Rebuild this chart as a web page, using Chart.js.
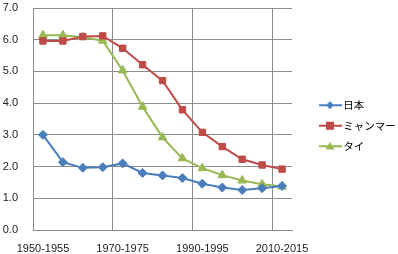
<!DOCTYPE html>
<html>
<head>
<meta charset="utf-8">
<script src="https://cdn.jsdelivr.net/npm/chart.js@4"></script>
<style>
  html, body { margin: 0; padding: 0; background: #fff; }
  #wrap { width: 398px; height: 254px; }
</style>
</head>
<body>
<div id="wrap"><canvas id="chart1" width="398" height="254"></canvas></div>
<script>
// 期間
const categories = ['1950-1955', '1955-1960', '1960-1965', '1965-1970', '1970-1975', '1975-1980',
  '1980-1985', '1985-1990', '1990-1995', '1995-2000', '2000-2005', '2005-2010', '2010-2015'];

// 系列の値
const japan = [3.00, 2.14, 1.96, 1.98, 2.10, 1.80, 1.72, 1.64, 1.46, 1.34, 1.26, 1.32, 1.39];
const myanmar = [5.96, 5.96, 6.10, 6.12, 5.73, 5.21, 4.71, 3.79, 3.08, 2.63, 2.23, 2.05, 1.92];
const thai = [6.14, 6.14, 6.08, 5.97, 5.03, 3.89, 2.92, 2.26, 1.95, 1.73, 1.56, 1.44, 1.37];

const seriesNames = ['日本', 'ミャンマー', 'タイ'];

const gridColor = '#8c8c8c';

// 凡例用のマーカー付き線 (左側は透明の余白)
function legendIcon(color, style, r) {
  const c = document.createElement('canvas');
  c.width = 44; c.height = 12;
  const g = c.getContext('2d');
  g.strokeStyle = color;
  g.lineWidth = 2;
  g.beginPath(); g.moveTo(21, 6); g.lineTo(44, 6); g.stroke();
  g.fillStyle = color;
  const cx = 32, cy = 6;
  g.beginPath();
  if (style === 'rectRot') {
    g.moveTo(cx, cy - r); g.lineTo(cx + r, cy); g.lineTo(cx, cy + r); g.lineTo(cx - r, cy);
  } else if (style === 'rect') {
    g.rect(cx - r, cy - r, 2 * r, 2 * r);
  } else {
    g.moveTo(cx, cy - r); g.lineTo(cx + r, cy + r * 0.7); g.lineTo(cx - r, cy + r * 0.7);
  }
  g.closePath(); g.fill();
  return c;
}

function makeSet(label, data, color, style, radius) {
  return {
    label: label,
    data: data,
    borderColor: color,
    backgroundColor: color,
    borderWidth: 2,
    pointStyle: style,
    pointRadius: radius,
    pointHoverRadius: radius,
    pointBorderWidth: 1,
    tension: 0
  };
}

const ctx = document.getElementById('chart1').getContext('2d');
window.chart = new Chart(ctx, {
  type: 'line',
  data: {
    labels: categories,
    datasets: [
      makeSet(seriesNames[0], japan, '#4a7ebb', 'rectRot', 4.5),
      makeSet(seriesNames[1], myanmar, '#be4b48', 'rect', 4.5),
      makeSet(seriesNames[2], thai, '#98b954', 'triangle', 5)
    ]
  },
  options: {
    responsive: false,
    animation: false,
    layout: { padding: { left: 3, top: 8, right: 0, bottom: 0 } },
    plugins: {
      tooltip: { enabled: false },
      legend: {
        position: 'right',
        align: 'start',
        maxWidth: 106,
        // 空のタイトルで凡例を下にずらす
        title: { display: true, text: '', font: { size: 10 }, padding: { top: 0, bottom: 70 } },
        labels: {
          usePointStyle: true,
          pointStyleWidth: 36,
          padding: 10,
          color: '#000',
          font: { family: '"Noto Sans CJK JP", sans-serif', size: 10.5 },
          generateLabels: function (chart) {
            const styles = [['rectRot', 4], ['rect', 4], ['triangle', 4.5]];
            return chart.data.datasets.map(function (ds, i) {
              return {
                text: ds.label,
                fillStyle: ds.borderColor,
                strokeStyle: ds.borderColor,
                fontColor: '#000',
                lineWidth: 0,
                pointStyle: legendIcon(ds.borderColor, styles[i][0], styles[i][1]),
                datasetIndex: i,
                hidden: false
              };
            });
          }
        }
      }
    },
    scales: {
      x: {
        offset: true,
        afterFit: function (s) { s.paddingLeft = 0; s.paddingRight = 0; s.height = 24; },
        grid: {
          offset: true,
          drawTicks: false,
          color: function (c) { return c.index % 4 === 0 ? gridColor : 'rgba(0,0,0,0)'; }
        },
        border: { display: true, color: gridColor },
        ticks: {
          autoSkip: false,
          maxRotation: 0,
          padding: 12,
          color: '#222',
          font: { family: '"Liberation Sans", Arial, sans-serif', size: 11 },
          callback: function (v, i) { return i % 4 === 0 ? categories[i] : ''; }
        }
      },
      y: {
        min: 0,
        max: 7,
        afterFit: function (s) { s.paddingTop = 0; s.paddingBottom = 0; s.width = 30; },
        grid: { color: gridColor, drawTicks: false },
        border: { display: true, color: gridColor },
        ticks: {
          stepSize: 1,
          padding: 15,
          color: '#222',
          font: { family: '"Liberation Sans", Arial, sans-serif', size: 11 },
          callback: function (v) { return v.toFixed(1); }
        }
      }
    }
  }
});
</script>
</body>
</html>
